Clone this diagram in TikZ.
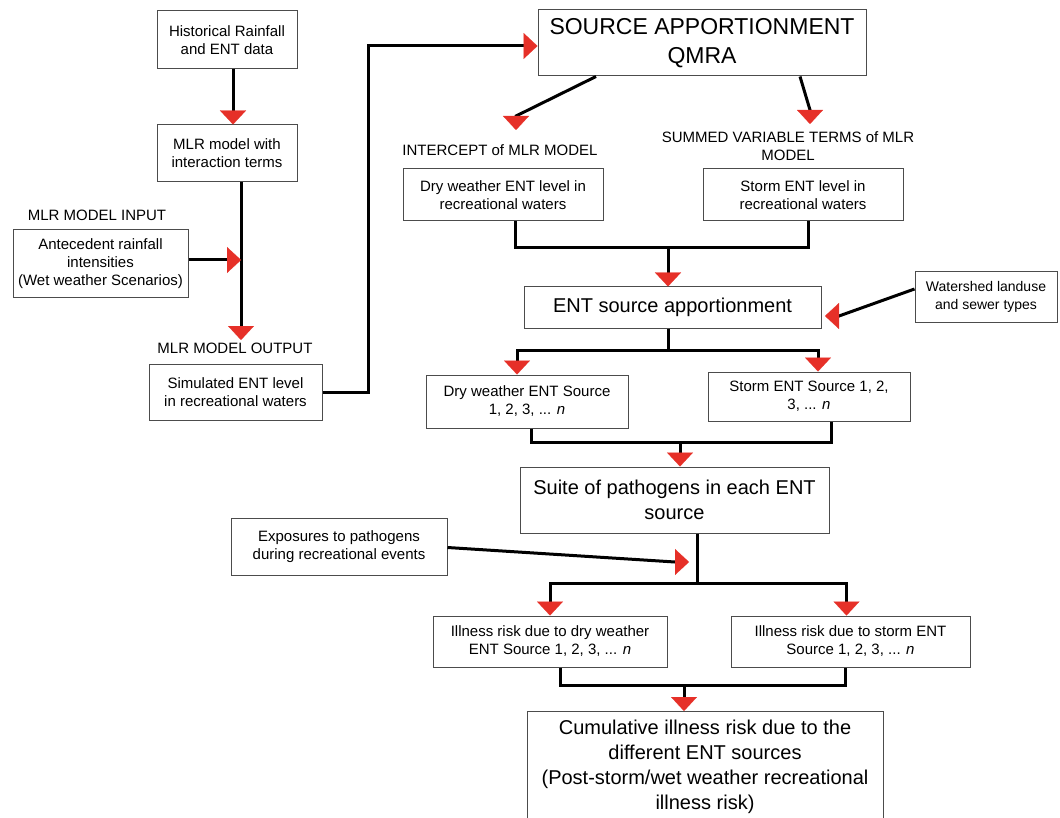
\documentclass[tikz,border=0pt]{standalone}
\usepackage{fontspec}
\setmainfont{Liberation Sans}
\usetikzlibrary{arrows.meta}
\definecolor{tipred}{RGB}{230,48,40}
\begin{document}
\begin{tikzpicture}[x=1pt,y=-1pt,
	box/.style={draw=black!70,line width=1pt,align=center,inner sep=0pt,font=\fontsize{15}{18}\selectfont},
	bigbox/.style={box,font=\fontsize{20}{25}\selectfont},
	titlebox/.style={box,font=\fontsize{23}{29}\selectfont},
	lbl/.style={align=center,inner sep=0pt,font=\fontsize{15}{18}\selectfont},
	link/.style={line width=3pt},
	flow/.style={link,-{Triangle[width=26pt,length=14pt,color=tipred,line width=0.1pt]}}]
	\useasboundingbox (0,0) rectangle (1060,818);
	\node[box,minimum width=140,minimum height=58] (hist) at (227,40) {Historical Rainfall\\and ENT data};
	\node[box,minimum width=140,minimum height=57] (mlr) at (227,153.5) {MLR model with\\interaction terms};
	\node[lbl] (inlbl) at (97,215) {MLR MODEL INPUT};
	\node[box,minimum width=175,minimum height=68] (ante) at (100.5,264) {Antecedent rainfall\\intensities\\(Wet weather Scenarios)};
	\node[lbl] (outlbl) at (235,348) {MLR MODEL OUTPUT};
	\node[box,minimum width=173,minimum height=56] (sim) at (235.5,392) {Simulated ENT level\\in recreational waters};
	\node[titlebox,minimum width=328,minimum height=66] (src) at (702,43) {SOURCE APPORTIONMENT\\QMRA};
	\node[lbl] (icpt) at (500,150) {INTERCEPT of MLR MODEL};
	\node[lbl] (svt) at (788,146) {SUMMED VARIABLE TERMS of MLR\\MODEL};
	\node[box,minimum width=200,minimum height=52] (dryl) at (503,195) {Dry weather ENT level in\\recreational waters};
	\node[box,minimum width=200,minimum height=52] (storml) at (803,195) {Storm ENT level in\\recreational waters};
	\node[bigbox,minimum width=297,minimum height=41] (entsrc) at (672.5,307.5) {ENT source apportionment};
	\node[box,minimum width=142,minimum height=50,font=\fontsize{14}{18}\selectfont] (ws) at (986,297) {Watershed landuse\\and sewer types};
	\node[box,minimum width=202,minimum height=53] (drys) at (527,401.5) {Dry weather ENT Source\\1, 2, 3, ... \textit{n}};
	\node[box,minimum width=202,minimum height=49] (storms) at (809,396.5) {Storm ENT Source 1, 2,\\3, ... \textit{n}};
	\node[bigbox,minimum width=309,minimum height=66] (suite) at (674.5,500) {Suite of pathogens in each ENT\\source};
	\node[box,minimum width=216,minimum height=57] (expo) at (339,546.5) {Exposures to pathogens\\during recreational events};
	\node[box,minimum width=234,minimum height=51] (illd) at (550,641.5) {Illness risk due to dry weather\\ENT Source 1, 2, 3, ... \textit{n}};
	\node[box,minimum width=239,minimum height=51] (ills) at (850.5,641.5) {Illness risk due to storm ENT\\Source 1, 2, 3, ... \textit{n}};
	\node[bigbox,anchor=north,minimum width=356,inner ysep=9] (cum) at (705,711) {Cumulative illness risk due to the\\different ENT sources\\(Post-storm/wet weather recreational\\illness risk)};
	\coordinate (outtip) at (241,340);
	\coordinate (icbase) at (516,116);
	\coordinate (ictip) at (516,130);
	\coordinate (svbase) at (810,110);
	\coordinate (svtip) at (810,124);
	\coordinate (m1) at (668,248);
	\coordinate (s1) at (668,350);
	\coordinate (wsbase) at (839,316);
	\coordinate (wstip) at (825,316);
	\coordinate (m2) at (680,442);
	\coordinate (s3) at (697,583);
	\coordinate (exbase) at (675,562);
	\coordinate (extip) at (689,562);
	\coordinate (m4) at (684,685);
	\draw[flow] ([xshift=6]hist.south) -- ([xshift=6]mlr.north);
	\draw[flow] (mlr.south -| outtip) -- (outtip);
	\draw[flow] ([yshift=4]ante.east) -- ([yshift=4]ante.east -| outtip);
	\draw[flow] (sim.east) -- ++(46,0) |- ([yshift=-3]src.west);
	\draw[flow] ([xshift=-106]src.south) -- (icbase) -- (ictip);
	\draw[flow] ([xshift=98]src.south) -- (svbase) -- (svtip);
	\draw[link] ([xshift=12]dryl.south) |- (m1) -| ([xshift=5]storml.south);
	\draw[flow] (m1) -- (m1 |- entsrc.north);
	\draw[flow] ([yshift=8]ws.west) -- (wsbase) -- (wstip);
	\draw[link] (entsrc.south -| s1) -- (s1);
	\draw[flow] (s1) -| ([xshift=-10]drys.north);
	\draw[flow] (s1) -| ([xshift=9]storms.north);
	\draw[link] ([xshift=4]drys.south) |- (m2) -| ([xshift=22]storms.south);
	\draw[flow] (m2) -- (m2 |- suite.north);
	\draw[link] (suite.south -| s3) -- (s3);
	\draw[flow] ([yshift=-1]expo.east) -- (exbase) -- (extip);
	\draw[flow] (s3) -| (illd.north);
	\draw[flow] (s3) -| ([xshift=-4]ills.north);
	\draw[link] ([xshift=10]illd.south) |- (m4) -| ([xshift=-5]ills.south);
	\draw[flow] (m4) -- (m4 |- cum.north);
\end{tikzpicture}
\end{document}
